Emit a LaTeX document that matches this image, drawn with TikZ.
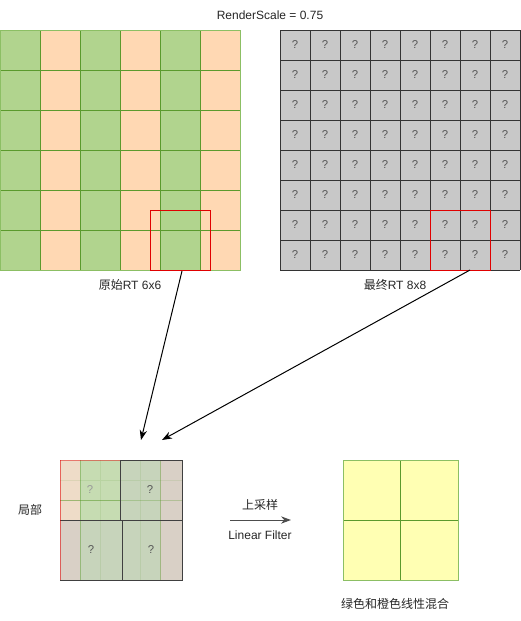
\documentclass[tikz,border=0pt]{standalone}
\usepackage{fontspec}
\setmainfont{Liberation Sans}
\newfontfamily\cjk{Noto Sans CJK SC}
\usetikzlibrary{arrows.meta}
\definecolor{gfill}{HTML}{B1D48E}
\definecolor{ofill}{HTML}{FFD8B3}
\definecolor{gline}{HTML}{5B9A2D}
\definecolor{gedge}{HTML}{8CBF64}
\definecolor{cellgrey}{HTML}{C8C8C8}
\definecolor{cellline}{HTML}{333333}
\definecolor{qmark}{HTML}{555555}
\definecolor{boxred}{HTML}{E00000}
\definecolor{yfill}{HTML}{FFFFB3}
\definecolor{arrowgrey}{HTML}{4D4D4D}
\definecolor{paleor}{HTML}{EEDCC8}
\definecolor{palegr}{HTML}{C6DCB2}
\definecolor{greyor}{HTML}{D9D0C6}
\definecolor{greygr}{HTML}{C7D4BB}
\begin{document}
\begin{tikzpicture}[x=0.75pt,y=-0.75pt,line width=0.75pt,
  font=\fontsize{9pt}{11pt}\selectfont,
  lbl/.style={inner sep=0pt,text=black!85},
  qm/.style={inner sep=0pt,text=qmark,font=\fontsize{8.5pt}{10pt}\selectfont},
  redbox/.style={draw=boxred,minimum width=45pt,minimum height=45pt,inner sep=0pt},
  conn/.style={-{Stealth[length=7.5pt,width=5.5pt]},black}]
\useasboundingbox (0,0) rectangle (521,621);

% title
\node[lbl] (title) at (270,15) {RenderScale = 0.75};

% ---- original RT 6x6 ----
\foreach \c in {0,2,4} \fill[gfill] (\c*40,30) rectangle ++(40,240);
\foreach \c in {1,3,5} \fill[ofill] (\c*40,30) rectangle ++(40,240);
\foreach \i in {1,...,5} {
  \draw[gline] (\i*40,30) -- (\i*40,270);
  \draw[gline] (0,30+\i*40) -- (240,30+\i*40);
}
\draw[gedge] (0,30) rectangle (240,270);
\node[redbox] (redL) at (180,240) {};
\node[lbl] (labL) at (130,285) {{\cjk 原始}RT 6x6};

% ---- final RT 8x8 ----
\fill[cellgrey] (280,30) rectangle (520,270);
\foreach \i in {0,...,8} {
  \draw[cellline] (280+\i*30,30) -- (280+\i*30,270);
  \draw[cellline] (280,30+\i*30) -- (520,30+\i*30);
}
\foreach \i in {0,...,7} \foreach \j in {0,...,7}
  \node[qm] (q-\i-\j) at (295+\i*30,45+\j*30) {?};
\node[redbox] (redR) at (460,240) {};
\node[lbl] (labR) at (395,285) {{\cjk 最终}RT 8x8};

% ---- local view ----
% top-left cell (pale)
\fill[paleor] (60,460) rectangle (80,520);
\fill[palegr] (80,460) rectangle (120,520);
% top-right cell
\fill[greygr] (120,460) rectangle (160,520);
\fill[greyor] (160,460) rectangle (182,520);
% bottom cells
\fill[greyor] (60,520) rectangle (80,580);
\fill[greygr] (80,520) rectangle (160,580);
\fill[greyor] (160,520) rectangle (182,580);
% faint pixel lines
\draw[gline,opacity=0.12] (100,460) -- (100,580) (140,460) -- (140,580) (60,480) -- (182,480);
% scaled 6x6 grid lines
\draw[gline,opacity=0.45] (80,460) -- (80,580) (160,460) -- (160,580);
\draw[gline,opacity=0.55] (60,500) -- (120,500);
\draw[gline,opacity=0.3] (120,500) -- (182,500);
% 2x2 upscaled cells
\draw[black!75] (120,460) -- (182,460) -- (182,580) -- (60,580);
\draw[black!75] (120,460) -- (120,520) (122,520) -- (122,580) (60,520) -- (182,520);
\draw[boxred,opacity=0.55] (60,460) -- (60,580);
\draw[boxred,opacity=0.45] (60,460) -- (120,460);
\node[qm,text=black!40] (lq1) at (90,490) {?};
\node[qm] (lq2) at (150,490) {?};
\node[qm] (lq3) at (91,550) {?};
\node[qm] (lq4) at (151,550) {?};
\node[lbl] (labLocal) at (30,510) {\cjk 局部};

% ---- upsampling arrow ----
\coordinate (us) at (230,520);
\coordinate (ue) at (291,520);
\draw[-{Stealth[length=7.5pt,width=5.5pt]},arrowgrey] (us) -- (ue);
\node[lbl] (labUp) at (260,505) {\cjk 上采样};
\node[lbl] (labLin) at (260,535) {Linear Filter};

% ---- result ----
\fill[yfill] (343,460) rectangle (458,580);
\draw[gline] (400,460) -- (400,580) (343,520) -- (458,520);
\draw[gedge] (343,460) rectangle (458,580);
\node[lbl] (labMix) at (395,604) {\cjk 绿色和橙色线性混合};

% ---- connectors ----
\coordinate (a1s) at (182,271);
\coordinate (a1e) at (141,440);
\coordinate (a2s) at (470,270);
\coordinate (a2e) at (162,440);
\draw[conn] (a1s) -- (a1e);
\draw[conn] (a2s) -- (a2e);
\end{tikzpicture}
\end{document}
